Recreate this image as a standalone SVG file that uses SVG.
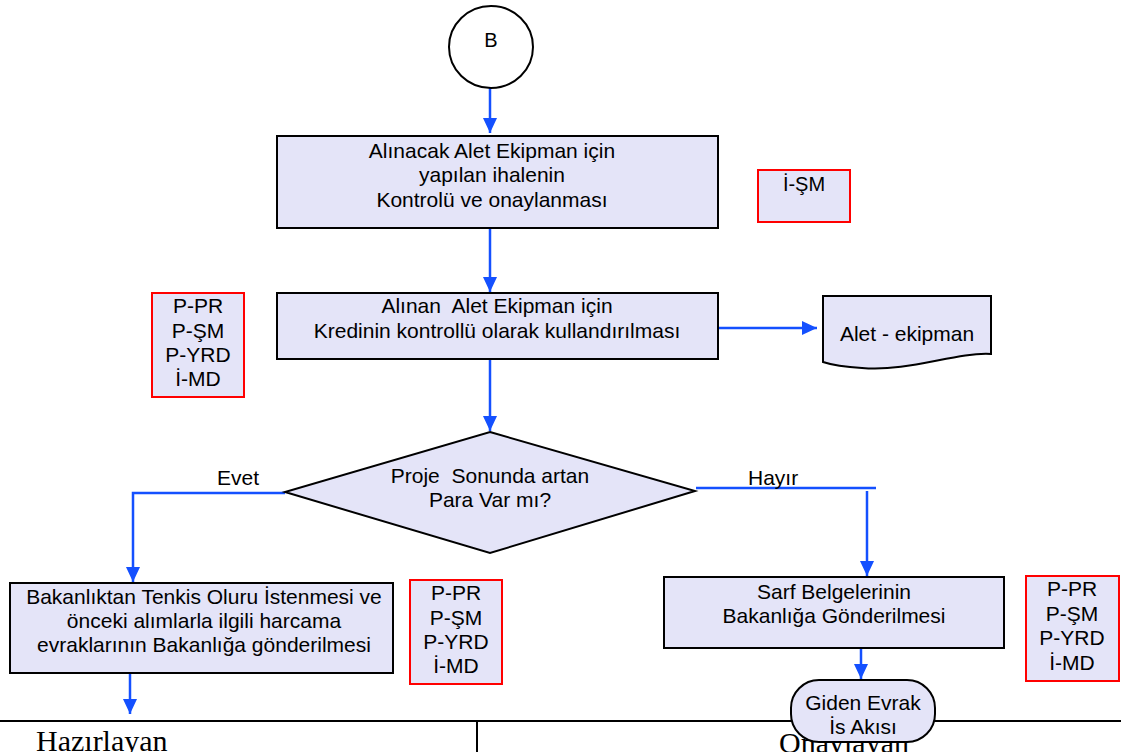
<svg xmlns="http://www.w3.org/2000/svg" width="1121" height="752" viewBox="0 0 1121 752">
<style>
.box{fill:#E4E4F8;stroke:#000;stroke-width:2}
.rbox{fill:#E4E4F8;stroke:#FF0000;stroke-width:2}
.t{font-family:"Liberation Sans",Arial,sans-serif;font-size:21px;fill:#000;text-anchor:middle;white-space:pre}
.lbl{font-family:"Liberation Sans",Arial,sans-serif;font-size:21px;fill:#000}
.c{fill:none;stroke:#1450FF;stroke-width:2.5}
.tm{font-family:"Liberation Serif","Times New Roman",serif;font-size:30px;fill:#000}
</style>
<defs>
<marker id="ah" markerUnits="userSpaceOnUse" markerWidth="16" markerHeight="16" viewBox="0 0 16 16" refX="15" refY="8" orient="auto">
<path d="M0,1 L15,8 L0,15 Z" fill="#1450FF"/>
</marker>
</defs>
<rect width="1121" height="752" fill="#fff"/>

<g id="footer">
<line x1="0" y1="721" x2="1121" y2="721" stroke="#000" stroke-width="2"/>
<line x1="477" y1="721" x2="477" y2="752" stroke="#000" stroke-width="2"/>
<text class="tm" x="36" y="751">Hazırlayan</text>
<text class="tm" x="779" y="753">Onaylayan</text>
</g>

<g id="connectors">
<path class="c" d="M490,88 V133" marker-end="url(#ah)"/>
<path class="c" d="M490,228 V292" marker-end="url(#ah)"/>
<path class="c" d="M490,359 V431" marker-end="url(#ah)"/>
<path class="c" d="M717,328 H817" marker-end="url(#ah)"/>
<path class="c" d="M285,493 H133 V582" marker-end="url(#ah)"/>
<path class="c" d="M696,488 H876"/>
<path class="c" d="M867,491 V576" marker-end="url(#ah)"/>
<path class="c" d="M130,673 V714" marker-end="url(#ah)"/>
<path class="c" d="M861,648 V679" marker-end="url(#ah)"/>
<text class="lbl" x="217" y="485">Evet</text>
<text class="lbl" x="748" y="485">Hayır</text>
</g>

<g id="start-B">
<ellipse cx="491" cy="47" rx="42" ry="41" fill="#fff" stroke="#000" stroke-width="2"/>
<text class="t" x="491" y="47" style="font-size:20px">B</text>
</g>

<g id="box1">
<rect class="box" x="277" y="136" width="441" height="92"/>
<text class="t" x="492" y="158">Alınacak Alet Ekipman için</text>
<text class="t" x="492" y="182">yapılan ihalenin</text>
<text class="t" x="492" y="207">Kontrolü ve onaylanması</text>
</g>

<g id="resp1">
<rect class="rbox" x="758" y="170" width="92" height="52"/>
<text class="t" x="804" y="191" style="font-size:20px">İ-ŞM</text>
</g>

<g id="box2">
<rect class="box" x="277" y="293" width="441" height="66"/>
<text class="t" x="497" y="313" xml:space="preserve">Alınan  Alet Ekipman için</text>
<text class="t" x="497" y="338">Kredinin kontrollü olarak kullandırılması</text>
</g>

<g id="resp2">
<rect class="rbox" x="152" y="293" width="92" height="104"/>
<text class="t" x="198" y="313">P-PR</text>
<text class="t" x="198" y="338">P-ŞM</text>
<text class="t" x="198" y="362">P-YRD</text>
<text class="t" x="198" y="386">İ-MD</text>
</g>

<g id="doc">
<path class="box" d="M823,296 H991 V354 C955,352 910,372 862,368 C845,367 832,365 823,362 Z"/>
<text class="t" x="907" y="341">Alet - ekipman</text>
</g>

<g id="decision">
<polygon class="box" points="490,432 695,491 490,553 285,492"/>
<text class="t" x="490" y="483" xml:space="preserve">Proje  Sonunda artan</text>
<text class="t" x="490" y="507">Para Var mı?</text>
</g>

<g id="box-yes">
<rect class="box" x="10" y="583" width="383" height="90"/>
<text class="t" x="204" y="604">Bakanlıktan Tenkis Oluru İstenmesi ve</text>
<text class="t" x="204" y="628">önceki alımlarla ilgili harcama</text>
<text class="t" x="204" y="652">evraklarının Bakanlığa gönderilmesi</text>
</g>

<g id="resp3">
<rect class="rbox" x="410" y="580" width="92" height="104"/>
<text class="t" x="456" y="600">P-PR</text>
<text class="t" x="456" y="625">P-ŞM</text>
<text class="t" x="456" y="649">P-YRD</text>
<text class="t" x="456" y="673">İ-MD</text>
</g>

<g id="box-no">
<rect class="box" x="664" y="577" width="340" height="71"/>
<text class="t" x="834" y="599">Sarf Belgelerinin</text>
<text class="t" x="834" y="623">Bakanlığa Gönderilmesi</text>
</g>

<g id="resp4">
<rect class="rbox" x="1026" y="576" width="93" height="105"/>
<text class="t" x="1072" y="596">P-PR</text>
<text class="t" x="1072" y="621">P-ŞM</text>
<text class="t" x="1072" y="645">P-YRD</text>
<text class="t" x="1072" y="670">İ-MD</text>
</g>

<g id="terminal">
<rect class="box" x="791" y="680" width="144" height="62" rx="28" ry="28"/>
<text class="t" x="863" y="710">Giden Evrak</text>
<text class="t" x="863" y="734">İs Akısı</text>
</g>
</svg>
